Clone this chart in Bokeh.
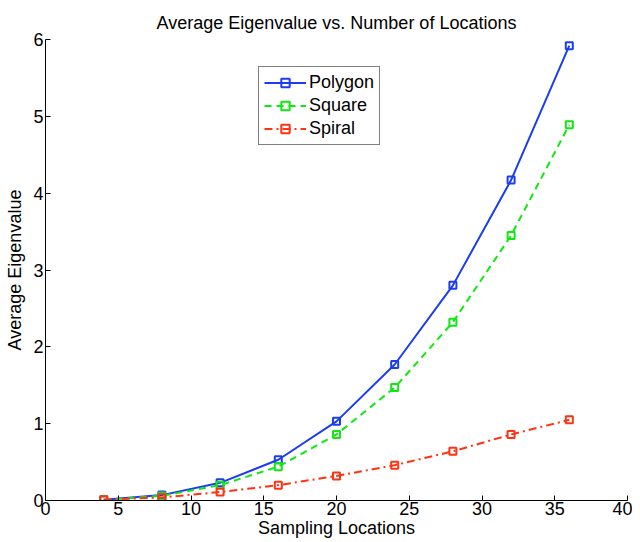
from bokeh.plotting import figure
from bokeh.embed import file_html
from bokeh.resources import INLINE
from bokeh.models import Range1d, Legend, LegendItem, FixedTicker

x_vals = [4, 8, 12, 16, 20, 24, 28, 32, 36]
polygon = [0.01, 0.07, 0.23, 0.53, 1.03, 1.77, 2.80, 4.17, 5.92]
square = [0.01, 0.06, 0.20, 0.44, 0.86, 1.47, 2.32, 3.45, 4.89]
spiral = [0.01, 0.04, 0.11, 0.20, 0.32, 0.46, 0.64, 0.86, 1.05]
x_ticks = [0, 5, 10, 15, 20, 25, 30, 35, 40]
y_ticks = [0, 1, 2, 3, 4, 5, 6]

FONT = "Liberation Sans"

p = figure(width=632, height=540, output_backend="svg", toolbar_location=None,
           x_range=Range1d(0, 40), y_range=Range1d(0, 6),
           title="Average Eigenvalue vs. Number of Locations",
           min_border_left=45, min_border_right=5, min_border_top=39, min_border_bottom=40)
p.title.align = "center"
p.title.text_font = FONT
p.title.text_font_size = "18px"
p.title.text_font_style = "normal"
p.title.text_color = "black"
p.title.offset = 0
p.title.standoff = 13

p.grid.visible = False
p.outline_line_color = None
p.background_fill_color = "white"

for ax in (p.xaxis[0], p.yaxis[0]):
    ax.major_tick_in = 5
    ax.major_tick_out = 0
    ax.minor_tick_in = 0
    ax.minor_tick_out = 0
    ax.major_label_text_font = FONT
    ax.major_label_text_font_size = "18px"
    ax.major_label_text_color = "black"
    ax.axis_label_text_font = FONT
    ax.axis_label_text_font_size = "18px"
    ax.axis_label_text_font_style = "normal"
    ax.axis_label_text_color = "black"
    ax.axis_line_color = "black"
    ax.major_tick_line_color = "black"
    ax.major_label_standoff = 1
    ax.axis_label_standoff = 0

p.yaxis[0].major_label_standoff = 2
p.yaxis[0].axis_label_standoff = 5

p.xaxis.ticker = FixedTicker(ticks=x_ticks)
p.yaxis.ticker = FixedTicker(ticks=y_ticks)
p.xaxis.axis_label = "Sampling Locations"
p.yaxis.axis_label = "Average Eigenvalue"

blue = "#1c3cf4"
green = "#10e810"
red = "#ff3312"

r1 = p.line(x_vals, polygon, line_color=blue, line_width=2)
m1 = p.scatter(x_vals, polygon, marker="square", size=7, fill_color=None, line_color=blue, line_width=2)
r2 = p.line(x_vals, square, line_color=green, line_width=2, line_dash="7 5")
m2 = p.scatter(x_vals, square, marker="square", size=7, fill_color=None, line_color=green, line_width=2)
r3 = p.line(x_vals, spiral, line_color=red, line_width=2, line_dash="8 4 2 4")
m3 = p.scatter(x_vals, spiral, marker="square", size=7, fill_color=None, line_color=red, line_width=2)

legend = Legend(items=[
    LegendItem(label="Polygon", renderers=[r1, m1]),
    LegendItem(label="Square", renderers=[r2, m2]),
    LegendItem(label="Spiral", renderers=[r3, m3]),
], location=(213, 355))
legend.label_text_font = FONT
legend.label_text_font_size = "18px"
legend.label_text_color = "black"
legend.border_line_color = "black"
legend.border_line_width = 1
legend.glyph_width = 42
legend.glyph_height = 21
legend.label_height = 21
legend.spacing = 2
legend.padding = 5
legend.margin = 0
legend.label_standoff = 3
legend.background_fill_alpha = 1
p.add_layout(legend, "center")

open("out.html", "w").write(file_html(p, INLINE))
